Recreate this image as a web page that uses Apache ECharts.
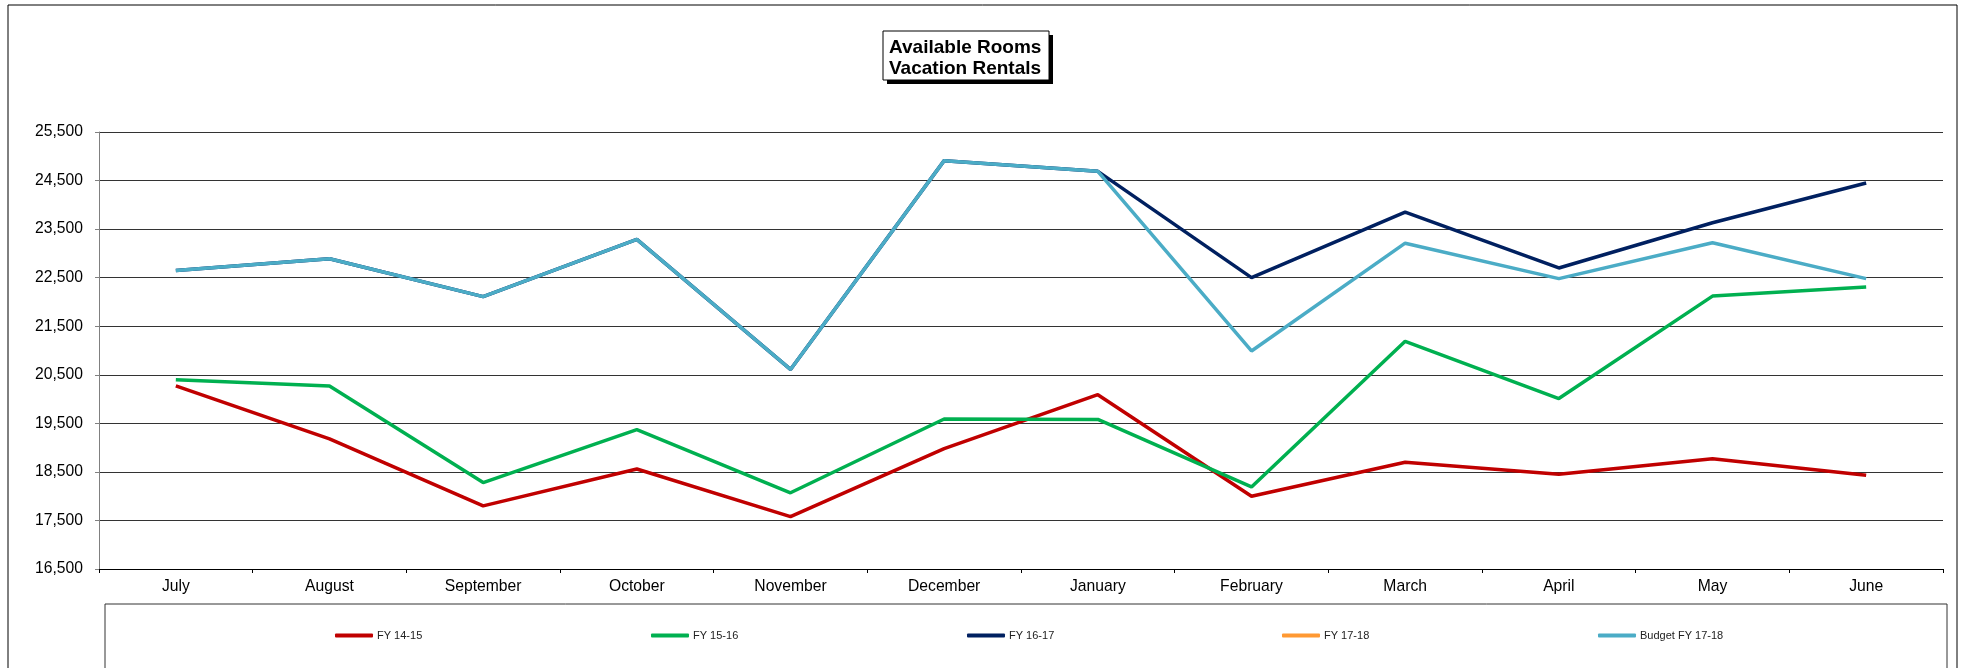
<!DOCTYPE html>
<html>
<head>
<meta charset="utf-8">
<title>Available Rooms - Vacation Rentals</title>
<script src="https://cdn.jsdelivr.net/npm/echarts@6/dist/echarts.min.js"></script>
<style>
  html, body { margin: 0; padding: 0; background: #fff; }
  #chart { width: 1967px; height: 668px; }
</style>
</head>
<body>
<div id="chart"></div>
<script>
// months of the fiscal year
var months = ['July', 'August', 'September', 'October', 'November', 'December',
  'January', 'February', 'March', 'April', 'May', 'June'];

// rooms available
var fy1415 = [20270, 19180, 17800, 18560, 17580, 18980, 20090, 18000, 18700, 18450, 18770, 18430];
var fy1516 = [20400, 20270, 18280, 19370, 18070, 19590, 19580, 18190, 21190, 20010, 22120, 22310];
var fy1617 = [22650, 22890, 22110, 23290, 20610, 24910, 24690, 22500, 23850, 22700, 23630, 24450];
var fy1718 = [];
var budget1718 = [22650, 22890, 22110, 23290, 20610, 24910, 24690, 20990, 23210, 22480, 23220, 22480];

var seriesNames = ['FY 14-15', 'FY 15-16', 'FY 16-17', 'FY 17-18', 'Budget FY 17-18'];
var seriesData = [fy1415, fy1516, fy1617, fy1718, budget1718];
var seriesColors = ['#C00000', '#00B050', '#002060', '#FF9933', '#4BACC6'];
var legendLeft = [335, 651, 967, 1282, 1598];

var font = 'Liberation Sans, Arial, sans-serif';

var chart = echarts.init(document.getElementById('chart'));

var series = seriesNames.map(function (name, i) {
  return {
    name: name,
    type: 'line',
    data: seriesData[i],
    symbol: 'none',
    lineStyle: { color: seriesColors[i], width: 3.5 },
    itemStyle: { color: seriesColors[i] }
  };
});

// one legend per item so they sit evenly spaced like the original
var legends = seriesNames.map(function (name, i) {
  return {
    data: [name],
    left: legendLeft[i],
    top: 630,
    padding: 0,
    icon: 'roundRect',
    itemWidth: 38,
    itemHeight: 4,
    itemGap: 0,
    textStyle: { fontFamily: font, fontSize: 11, color: '#222', padding: [0, 0, 0, -1] }
  };
});

var option = {
  animation: false,
  title: {
    text: 'Available Rooms\nVacation Rentals',
    left: 889,
    top: 38,
    padding: 0,
    z: 10,
    textStyle: {
      fontFamily: font,
      fontSize: 19,
      fontWeight: 'bold',
      color: '#000',
      lineHeight: 20.5
    }
  },
  legend: legends,
  grid: {
    left: 99,
    top: 132,
    width: 1844,
    height: 437,
    containLabel: false
  },
  xAxis: {
    type: 'category',
    data: months,
    boundaryGap: true,
    axisLine: { lineStyle: { color: '#000', width: 1 } },
    axisTick: { show: true, inside: false, length: 4, lineStyle: { color: '#000' } },
    axisLabel: { fontFamily: font, fontSize: 15.7, color: '#000', margin: 10 },
    splitLine: { show: false }
  },
  yAxis: {
    type: 'value',
    min: 16500,
    max: 25500,
    interval: 1000,
    axisLine: { show: true, lineStyle: { color: '#808080', width: 1 } },
    axisTick: { show: true, inside: false, length: 4, lineStyle: { color: '#808080' } },
    axisLabel: {
      fontFamily: font,
      fontSize: 15.7,
      color: '#000',
      margin: 16,
      formatter: function (v) { return v.toLocaleString('en-US'); }
    },
    splitLine: { show: true, lineStyle: { color: '#333', width: 1 } }
  },
  graphic: [
    {
      type: 'rect',
      shape: { x: 8, y: 5, width: 1949, height: 700 },
      style: { fill: 'none', stroke: '#000', lineWidth: 1 },
      silent: true
    },
    {
      type: 'rect',
      shape: { x: 105, y: 604, width: 1842, height: 100 },
      style: { fill: 'none', stroke: '#333', lineWidth: 1 },
      silent: true
    },
    // title box shadow and frame
    {
      type: 'rect',
      shape: { x: 887, y: 35, width: 166, height: 49 },
      style: { fill: '#000' },
      silent: true
    },
    {
      type: 'rect',
      shape: { x: 883, y: 31, width: 166, height: 49 },
      style: { fill: '#fff', stroke: '#000', lineWidth: 1 },
      silent: true
    }
  ],
  series: series
};

chart.setOption(option);
</script>
</body>
</html>
